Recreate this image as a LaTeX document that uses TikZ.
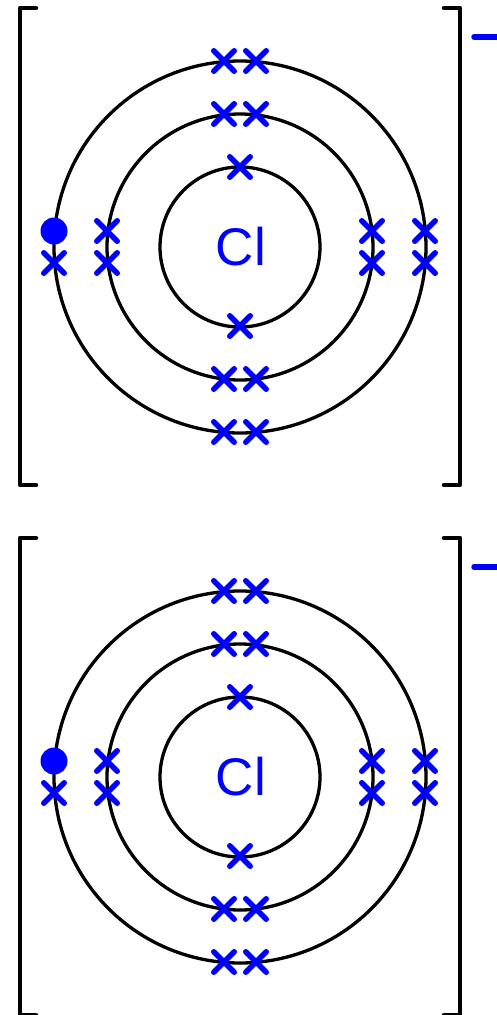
\documentclass[tikz,border=0pt]{standalone}
\usepackage{fontspec}
\setmainfont{Liberation Sans}
\usepackage{xcolor}
\definecolor{cElec}{HTML}{0000FF}
\usetikzlibrary{shapes.misc}
\tikzset{
  node-shell/.style={draw=black,line width=3.3pt,circle,inner sep=0pt},
  node-cross/.style={draw=cElec,cross out,line width=5.5pt,line cap=round,
    inner sep=0pt,outer sep=0pt,minimum size=20.5pt},
  node-dot/.style={fill=cElec,circle,inner sep=0pt,minimum size=27pt},
  node-sym/.style={text=cElec,inner sep=0pt,font=\fontsize{53}{53}\selectfont},
  bracket/.style={line width=4.5pt,draw=black,line cap=round,line join=round},
  charge/.style={line width=5.5pt,draw=cElec,line cap=round},
}
\begin{document}
\begin{tikzpicture}[x=1pt,y=-1pt]
  \useasboundingbox (0,0) rectangle (497,1015);
  \foreach \atom/\dy in {a/0,b/530}{
    \begin{scope}[yshift=-\dy pt]
      % shells
      \node[node-shell,minimum size=372pt] (outer\atom) at (240,247) {};
      \node[node-shell,minimum size=266pt] (middle\atom) at (240,247) {};
      \node[node-shell,minimum size=160pt] (inner\atom) at (240,247) {};
      \node[node-sym] (sym\atom) at (241,247) {Cl};
      % electrons
      \foreach \name/\x/\y in {i1/240/167,i2/240/326,
          m1/224/114,m2/256/114,m3/224/379,m4/256/379,
          m5/107/231,m6/107/263,m7/372/231,m8/372/263,
          o1/224/61,o2/256/61,o3/224/432,o4/256/432,
          o5/54/263,o6/425/231,o7/425/263}
        \node[node-cross] (\atom\name) at (\x,\y) {};
      \node[node-dot] (dot\atom) at (54,231) {};
      % brackets and charge
      \draw[bracket] (36,8) -- (20,8) -- (20,485) -- (36,485);
      \draw[bracket] (444,8) -- (460,8) -- (460,485) -- (444,485);
      \draw[charge] (474,37) -- (497,37);
    \end{scope}
  }
\end{tikzpicture}
\end{document}
